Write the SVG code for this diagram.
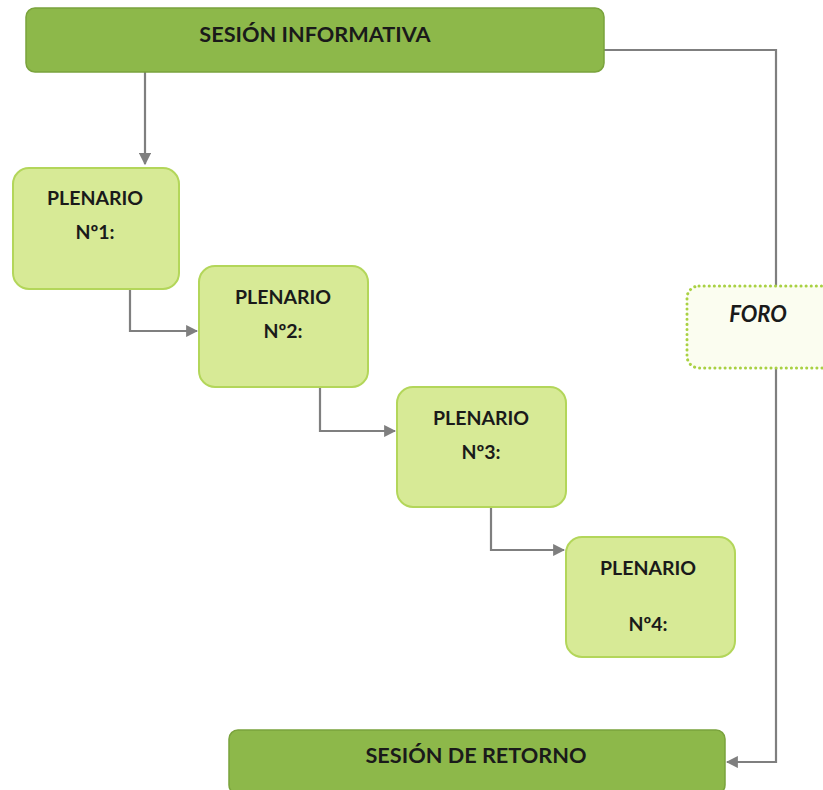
<svg xmlns="http://www.w3.org/2000/svg" width="823" height="790" viewBox="0 0 823 790">
<defs>
<style>
.main{fill:#8db84a;stroke:#7aa33c;stroke-width:1.5}
.plen{fill:#d7ea96;stroke:#b3d65a;stroke-width:2}
.foro{fill:#fbfdf0;stroke:#a9d143;stroke-width:3;stroke-dasharray:0.1 5;stroke-linecap:round}
.t{font-family:Lato,"Liberation Sans",sans-serif;font-weight:bold;fill:#1a1a1a;text-anchor:middle}
.big{font-size:21.7px}
.sm{font-size:19.5px}
.conn{fill:none;stroke:#7f7f7f;stroke-width:2.2}
</style>
<marker id="arr" viewBox="0 0 10 10" refX="9" refY="5" markerWidth="5.5" markerHeight="5.5" orient="auto" markerUnits="strokeWidth">
<path d="M0,0 L10,5 L0,10 Z" fill="#7f7f7f"/>
</marker>
</defs>
<rect width="823" height="790" fill="#ffffff"/>
<g id="connectors">
<path class="conn" d="M145,72 V164" marker-end="url(#arr)"/>
<path class="conn" d="M130,289 V331 H197" marker-end="url(#arr)"/>
<path class="conn" d="M320,387 V431 H395" marker-end="url(#arr)"/>
<path class="conn" d="M491,507 V550 H564" marker-end="url(#arr)"/>
<path class="conn" d="M604,50 H776 V286"/>
<path class="conn" d="M776,368 V762 H727" marker-end="url(#arr)"/>
</g>
<g id="sesion-informativa">
<rect class="main" x="26" y="8" width="578" height="64" rx="9"/>
<text class="t big" x="315" y="42">SESIÓN INFORMATIVA</text>
</g>
<g id="plenario1">
<rect class="plen" x="13" y="168" width="166" height="121" rx="16"/>
<text class="t sm" x="95" y="205">PLENARIO</text>
<text class="t sm" x="95" y="239">Nº1:</text>
</g>
<g id="plenario2">
<rect class="plen" x="199" y="266" width="169" height="121" rx="16"/>
<text class="t sm" x="283" y="304">PLENARIO</text>
<text class="t sm" x="283" y="338">Nº2:</text>
</g>
<g id="plenario3">
<rect class="plen" x="397" y="387" width="169" height="120" rx="16"/>
<text class="t sm" x="481" y="425">PLENARIO</text>
<text class="t sm" x="481" y="459">Nº3:</text>
</g>
<g id="plenario4">
<rect class="plen" x="566" y="537" width="169" height="120" rx="16"/>
<text class="t sm" x="648" y="575">PLENARIO</text>
<text class="t sm" x="648" y="631">Nº4:</text>
</g>
<g id="foro">
<rect class="foro" x="687" y="286" width="150" height="82" rx="12"/>
<text class="t" x="758" y="322" font-style="italic" font-size="22">FORO</text>
</g>
<g id="sesion-retorno">
<rect class="main" x="229" y="730" width="496" height="64" rx="9"/>
<text class="t big" x="476" y="763">SESIÓN DE RETORNO</text>
</g>
</svg>
